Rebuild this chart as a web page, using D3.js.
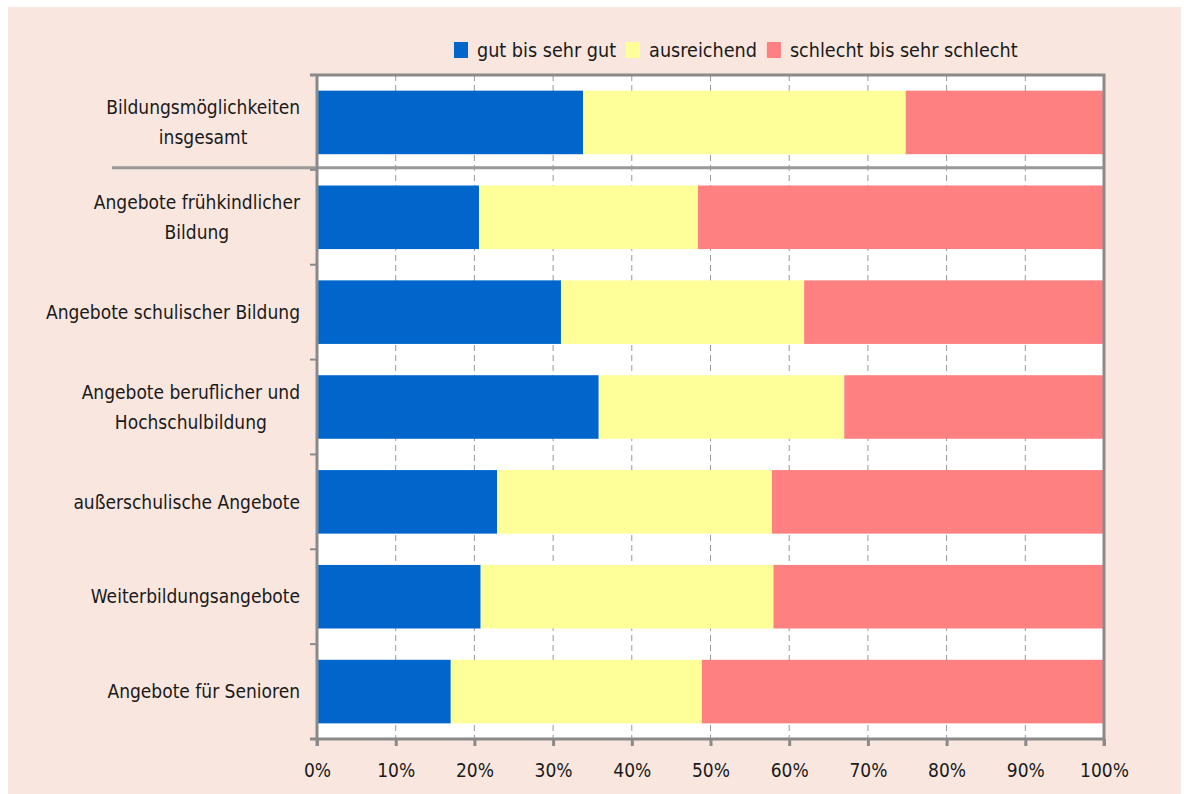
<!DOCTYPE html>
<html>
<head>
<meta charset="utf-8">
<script src="https://cdn.jsdelivr.net/npm/d3@7"></script>
<style>
  body { margin: 0; background: #fff; }
  text { font-family: "Liberation Sans Narrow", "DejaVu Sans Condensed", sans-serif; fill: #1a1a1a; }
</style>
</head>
<body>
<svg id="chart" width="1184" height="794"></svg>
<script>
const categories = [
  ['Bildungsmöglichkeiten', 'insgesamt'],
  ['Angebote frühkindlicher', 'Bildung'],
  ['Angebote schulischer Bildung'],
  ['Angebote beruflicher und', 'Hochschulbildung'],
  ['außerschulische Angebote'],
  ['Weiterbildungsangebote'],
  ['Angebote für Senioren']
];
const seriesNames = ['gut bis sehr gut', 'ausreichend', 'schlecht bis sehr schlecht'];
const gut = [33.8, 20.6, 31.0, 35.8, 22.9, 20.8, 17.0];
const ausreichend = [41.0, 27.8, 30.9, 31.2, 34.9, 37.2, 31.9];
const schlecht = [25.2, 51.6, 38.1, 33.0, 42.2, 42.0, 51.1];
const xTicks = [0, 10, 20, 30, 40, 50, 60, 70, 80, 90, 100];

const BLUE = '#0066cc';
const YELLOW = '#ffff99';
const PINK = '#ff8080';
const GREY = '#8a8a8a';
const PANEL = '#f9e7df';
const COLORS = [BLUE, YELLOW, PINK];

const svg = d3.select('#chart');
const plot = { left: 317, right: 1104, top: 75, bottom: 739 };

svg.append('rect')
  .attr('x', 8).attr('y', 7)
  .attr('width', 1173).attr('height', 787)
  .attr('fill', PANEL);

const x = d3.scaleLinear().domain([0, 100]).range([plot.left, plot.right]);
const y = d3.scaleBand()
  .domain(d3.range(categories.length))
  .range([plot.top, plot.bottom])
  .paddingInner(0.33)
  .paddingOuter(0.165);

const rows = categories.map((c, i) => {
  const vals = [gut[i], ausreichend[i], schlecht[i]];
  let acc = 0;
  return vals.map((v, k) => {
    const seg = { row: i, key: k, x0: acc, x1: acc + v };
    acc += v;
    return seg;
  });
});

// plot background
svg.append('rect')
  .attr('x', plot.left).attr('y', plot.top)
  .attr('width', plot.right - plot.left).attr('height', plot.bottom - plot.top)
  .attr('fill', '#fff');

// dashed vertical gridlines
svg.append('g')
  .selectAll('line')
  .data(xTicks.slice(1, -1))
  .join('line')
    .attr('x1', (d) => x(d)).attr('x2', (d) => x(d))
    .attr('y1', plot.top).attr('y2', plot.bottom)
    .attr('stroke', '#999')
    .attr('stroke-width', 1)
    .attr('stroke-dasharray', '6,4');

// bars
svg.append('g')
  .selectAll('rect')
  .data(rows.flat())
  .join('rect')
    .attr('x', (d) => x(d.x0))
    .attr('y', (d) => y(d.row))
    .attr('width', (d) => x(d.x1) - x(d.x0))
    .attr('height', y.bandwidth())
    .attr('fill', (d) => COLORS[d.key]);

// separator under first row
const sepY = y(0) + y.bandwidth() + y.step() * y.paddingInner() / 2 - 2;
svg.append('line')
  .attr('x1', 112).attr('x2', plot.right)
  .attr('y1', sepY).attr('y2', sepY)
  .attr('stroke', '#999')
  .attr('stroke-width', 3);

// y axis with ticks at band boundaries
const bounds = d3.range(categories.length + 1).map((i) => plot.top + i * y.step());
svg.append('g')
  .selectAll('line')
  .data(bounds)
  .join('line')
    .attr('x1', plot.left - 7).attr('x2', plot.left)
    .attr('y1', (d) => d).attr('y2', (d) => d)
    .attr('stroke', GREY)
    .attr('stroke-width', 2);

// frame: top and right border
svg.append('path')
  .attr('d', `M${plot.left - 7},${plot.top}H${plot.right}V${plot.bottom + 7}`)
  .attr('fill', 'none')
  .attr('stroke', GREY)
  .attr('stroke-width', 3);

svg.append('line')
  .attr('x1', plot.left).attr('x2', plot.left)
  .attr('y1', plot.top).attr('y2', plot.bottom + 7)
  .attr('stroke', GREY)
  .attr('stroke-width', 3);

// x axis
const xAxis = d3.axisBottom(x)
  .tickValues(xTicks)
  .tickSize(7)
  .tickFormat((d) => d + '%');

const xg = svg.append('g')
  .attr('transform', `translate(0,${plot.bottom})`)
  .call(xAxis);

xg.select('.domain')
  .attr('d', `M${plot.left - 7},0H${plot.right}`)
  .attr('stroke', GREY)
  .attr('stroke-width', 3);

xg.selectAll('.tick line')
  .attr('stroke', GREY)
  .attr('stroke-width', 3);

xg.selectAll('.tick text')
  .attr('y', 25)
  .attr('dy', '0.71em')
  .style('font-size', '19px')
  .style('font-family', '"Liberation Sans Narrow", "DejaVu Sans Condensed", sans-serif')
  .attr('fill', '#1a1a1a');

// category labels: block right aligned at x=300, lines centred in block
const labelRight = 300;
const lineH = 30;
categories.forEach((lines, i) => {
  const cy = y(i) + y.bandwidth() / 2;
  const g = svg.append('g');
  const texts = lines.map((t, k) => g.append('text')
    .attr('y', cy + (k - (lines.length - 1) / 2) * lineH)
    .attr('dy', '0.35em')
    .attr('text-anchor', 'middle')
    .style('font-size', '19px')
    .text(t));
  const maxW = d3.max(texts, (t) => t.node().getComputedTextLength());
  texts.forEach((t) => t.attr('x', labelRight - maxW / 2));
});

// legend
let lx = 454;
const ly = 50;
seriesNames.forEach((name, k) => {
  svg.append('rect')
    .attr('x', lx).attr('y', ly - 8)
    .attr('width', 14).attr('height', 16)
    .attr('fill', COLORS[k]);
  const t = svg.append('text')
    .attr('x', lx + 23).attr('y', ly)
    .attr('dy', '0.35em')
    .style('font-size', '19.6px')
    .text(name);
  lx += 23 + t.node().getComputedTextLength() + 10;
});
</script>
</body>
</html>
